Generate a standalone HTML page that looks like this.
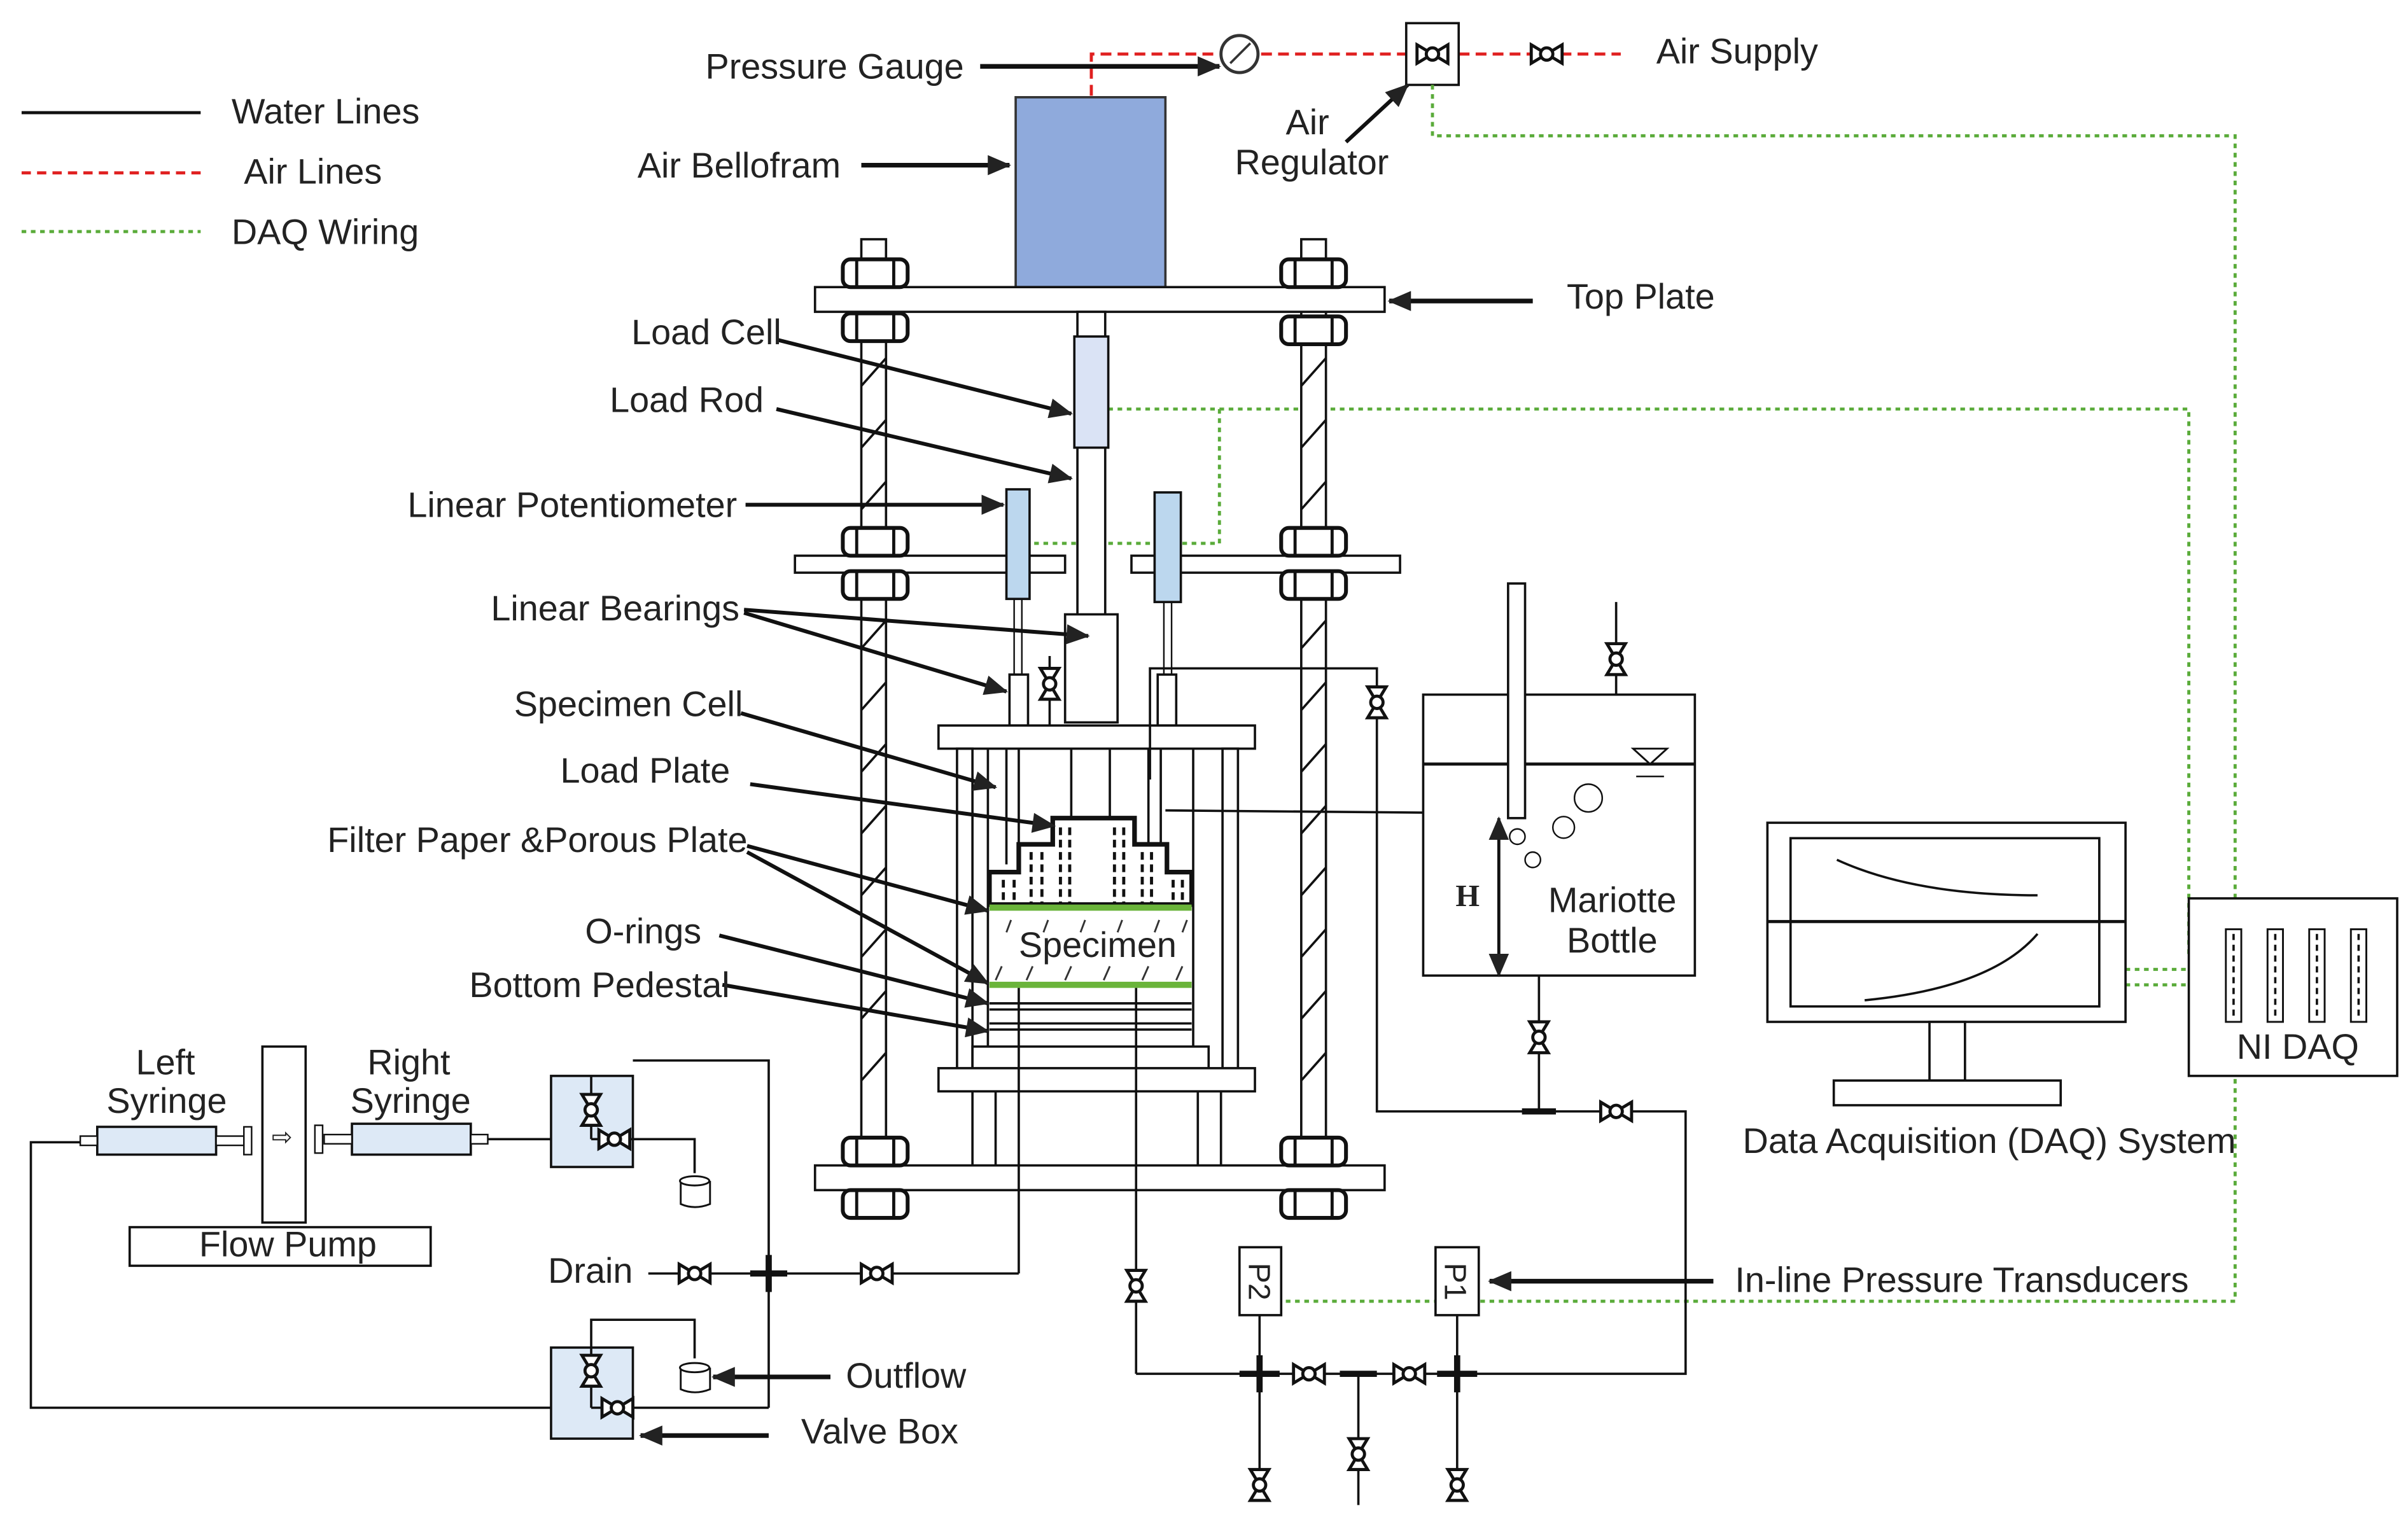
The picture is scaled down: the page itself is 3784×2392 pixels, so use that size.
<!DOCTYPE html>
<html><head><meta charset="utf-8"><style>
html,body{margin:0;padding:0;background:#fff;}
svg{display:block;}
text{font-family:"Liberation Sans",Arial,sans-serif;font-size:23px;fill:#222;}
</style></head><body>
<svg width="3784" height="2392" viewBox="0 0 1560 986" preserveAspectRatio="none" xmlns="http://www.w3.org/2000/svg">
<defs>
<marker id="a" viewBox="0 0 14 12" refX="13" refY="6" markerWidth="16" markerHeight="13" orient="auto-start-reverse" markerUnits="userSpaceOnUse"><path d="M0,0 L14,6 L0,12 Z" fill="#222"/></marker>
<g id="vh"><path d="M-10,-6 L10,6 L10,-6 L-10,6 Z" fill="#fff" stroke="#111" stroke-width="2"/><circle r="4" fill="#fff" stroke="#111" stroke-width="2"/></g>
<g id="vv"><path d="M-6,-10 L6,10 L-6,10 L6,-10 Z" fill="#fff" stroke="#111" stroke-width="2"/><circle r="4" fill="#fff" stroke="#111" stroke-width="2"/></g>
<g id="nut"><rect x="-21" y="-9" width="42" height="18" rx="5" fill="#fff" stroke="#111" stroke-width="2.5"/><line x1="-12" y1="-9" x2="-12" y2="9" stroke="#111" stroke-width="2"/><line x1="12" y1="-9" x2="12" y2="9" stroke="#111" stroke-width="2"/></g>
</defs>

<!-- legend -->
<line x1="14" y1="73" x2="130" y2="73" stroke="#111" stroke-width="2"/>
<line x1="14" y1="112" x2="130" y2="112" stroke="#e02020" stroke-width="2" stroke-dasharray="6,4"/>
<line x1="14" y1="150" x2="130" y2="150" stroke="#5aab3a" stroke-width="2" stroke-dasharray="3,3"/>
<text x="150" y="80">Water Lines</text>
<text x="158" y="119">Air Lines</text>
<text x="150" y="158">DAQ Wiring</text>

<!-- air lines -->
<g fill="none" stroke="#e02020" stroke-width="2" stroke-dasharray="7,4">
<polyline points="707,62 707,35 790,35"/>
<line x1="817" y1="35" x2="911" y2="35"/>
<line x1="945" y1="35" x2="1050" y2="35"/>
</g>
<circle cx="803" cy="35" r="12" fill="#fff" stroke="#333" stroke-width="2"/>
<line x1="797" y1="41" x2="810" y2="28" stroke="#333" stroke-width="1.5"/>
<rect x="911" y="15" width="34" height="40" fill="#fff" stroke="#111" stroke-width="1.5"/>
<use href="#vh" x="928" y="35"/>
<use href="#vh" x="1002" y="35"/>
<text x="457" y="51">Pressure Gauge</text>
<line x1="635" y1="43" x2="790" y2="43" stroke="#111" stroke-width="3" marker-end="url(#a)"/>
<text x="1073" y="41">Air Supply</text>
<text x="833" y="87">Air</text>
<text x="800" y="113">Regulator</text>
<line x1="872" y1="92" x2="912" y2="55" stroke="#111" stroke-width="2.5" marker-end="url(#a)"/>

<!-- DAQ wiring -->
<g fill="none" stroke="#5aab3a" stroke-width="2" stroke-dasharray="3,3">
<polyline points="928,55 928,88 1448,88 1448,843 830,843"/>
<polyline points="718,265 1418,265 1418,620"/>
<polyline points="790,265 790,352 668,352"/>
<line x1="1377" y1="628" x2="1418" y2="628"/>
<line x1="1377" y1="638" x2="1418" y2="638"/>
</g>

<!-- bellofram -->
<rect x="658" y="63" width="97" height="123" fill="#8faadc" stroke="#333" stroke-width="1.5"/>
<text x="413" y="115">Air Bellofram</text>
<line x1="558" y1="107" x2="654" y2="107" stroke="#111" stroke-width="3" marker-end="url(#a)"/>

<!-- rods -->
<g stroke="#111" stroke-width="1.5" fill="#fff">
<rect x="558" y="155" width="16" height="625"/>
<rect x="843" y="155" width="16" height="625"/>
</g>
<g stroke="#111" stroke-width="1.5">
<line x1="558" y1="250" x2="574" y2="232"/><line x1="558" y1="290" x2="574" y2="272"/><line x1="558" y1="330" x2="574" y2="312"/>
<line x1="558" y1="420" x2="574" y2="402"/><line x1="558" y1="460" x2="574" y2="442"/><line x1="558" y1="500" x2="574" y2="482"/><line x1="558" y1="540" x2="574" y2="522"/><line x1="558" y1="580" x2="574" y2="562"/><line x1="558" y1="620" x2="574" y2="602"/><line x1="558" y1="660" x2="574" y2="642"/><line x1="558" y1="700" x2="574" y2="682"/>
<line x1="843" y1="250" x2="859" y2="232"/><line x1="843" y1="290" x2="859" y2="272"/><line x1="843" y1="330" x2="859" y2="312"/>
<line x1="843" y1="420" x2="859" y2="402"/><line x1="843" y1="460" x2="859" y2="442"/><line x1="843" y1="500" x2="859" y2="482"/><line x1="843" y1="540" x2="859" y2="522"/><line x1="843" y1="580" x2="859" y2="562"/><line x1="843" y1="620" x2="859" y2="602"/><line x1="843" y1="660" x2="859" y2="642"/><line x1="843" y1="700" x2="859" y2="682"/>
</g>
<!-- top plate -->
<rect x="528" y="186" width="369" height="16" fill="#fff" stroke="#111" stroke-width="1.5"/>
<use href="#nut" x="567" y="177"/><use href="#nut" x="567" y="212"/>
<use href="#nut" x="851" y="177"/><use href="#nut" x="851" y="214"/>
<text x="1015" y="200">Top Plate</text>
<line x1="993" y1="195" x2="900" y2="195" stroke="#111" stroke-width="3" marker-end="url(#a)"/>
<!-- middle plates -->
<rect x="515" y="360" width="175" height="11" fill="#fff" stroke="#111" stroke-width="1.5"/>
<rect x="733" y="360" width="174" height="11" fill="#fff" stroke="#111" stroke-width="1.5"/>
<use href="#nut" x="567" y="351"/><use href="#nut" x="567" y="379"/>
<use href="#nut" x="851" y="351"/><use href="#nut" x="851" y="379"/>
<!-- bottom plate -->
<rect x="528" y="755" width="369" height="16" fill="#fff" stroke="#111" stroke-width="1.5"/>
<use href="#nut" x="567" y="746"/><use href="#nut" x="567" y="780"/>
<use href="#nut" x="851" y="746"/><use href="#nut" x="851" y="780"/>

<!-- load rod & cell -->
<rect x="698" y="202" width="18" height="200" fill="#fff" stroke="#111" stroke-width="1.5"/>
<rect x="696" y="218" width="22" height="72" fill="#dae3f5" stroke="#111" stroke-width="1.5"/>
<rect x="690" y="398" width="34" height="70" fill="#fff" stroke="#111" stroke-width="1.5"/>
<!-- potentiometers -->
<rect x="652" y="317" width="15" height="71" fill="#bcd7ee" stroke="#111" stroke-width="1.5"/>
<rect x="748" y="319" width="17" height="71" fill="#bcd7ee" stroke="#111" stroke-width="1.5"/>
<line x1="657" y1="388" x2="657" y2="437" stroke="#111"/><line x1="662" y1="388" x2="662" y2="437" stroke="#111"/>
<line x1="754" y1="390" x2="754" y2="437" stroke="#111"/><line x1="759" y1="390" x2="759" y2="437" stroke="#111"/>
<rect x="654" y="437" width="12" height="33" fill="#fff" stroke="#111" stroke-width="1.5"/>
<rect x="750" y="437" width="12" height="33" fill="#fff" stroke="#111" stroke-width="1.5"/>
<line x1="680" y1="425" x2="680" y2="470" stroke="#111" stroke-width="1.5"/>
<use href="#vv" x="680" y="443"/>

<!-- specimen cell -->
<rect x="608" y="470" width="205" height="15" fill="#fff" stroke="#111" stroke-width="1.5"/>
<g stroke="#111" stroke-width="1.5" fill="none">
<rect x="620" y="485" width="10" height="207"/>
<rect x="792" y="485" width="10" height="207"/>
<line x1="640" y1="485" x2="640" y2="690"/><line x1="773" y1="485" x2="773" y2="690"/>
<line x1="652" y1="485" x2="652" y2="560"/><line x1="660" y1="485" x2="660" y2="560"/>
<line x1="744" y1="485" x2="744" y2="560"/><line x1="752" y1="485" x2="752" y2="560"/>
<line x1="694" y1="485" x2="694" y2="530"/><line x1="719" y1="485" x2="719" y2="530"/>
</g>
<path d="M641,586 L641,565 L660,565 L660,547 L682,547 L682,530 L735,530 L735,547 L756,547 L756,565 L772,565 L772,586 Z" fill="#fff" stroke="#111" stroke-width="3"/>
<g stroke="#111" stroke-width="2" stroke-dasharray="5,3">
<line x1="650" y1="570" x2="650" y2="585"/><line x1="657" y1="570" x2="657" y2="585"/><line x1="668" y1="552" x2="668" y2="585"/><line x1="675" y1="552" x2="675" y2="585"/><line x1="687" y1="536" x2="687" y2="585"/><line x1="693" y1="536" x2="693" y2="585"/>
<line x1="722" y1="536" x2="722" y2="585"/><line x1="728" y1="536" x2="728" y2="585"/><line x1="740" y1="552" x2="740" y2="585"/><line x1="746" y1="552" x2="746" y2="585"/><line x1="760" y1="570" x2="760" y2="585"/><line x1="766" y1="570" x2="766" y2="585"/>
</g>
<rect x="641" y="586" width="131" height="4" fill="#6ab43a"/>
<g stroke="#333" stroke-width="1.2">
<line x1="652" y1="604" x2="655" y2="596"/><line x1="676" y1="604" x2="679" y2="596"/><line x1="700" y1="604" x2="703" y2="596"/><line x1="724" y1="604" x2="727" y2="596"/><line x1="748" y1="604" x2="751" y2="596"/><line x1="766" y1="604" x2="769" y2="596"/>
<line x1="645" y1="635" x2="649" y2="626"/><line x1="665" y1="635" x2="669" y2="626"/><line x1="690" y1="635" x2="694" y2="626"/><line x1="715" y1="635" x2="719" y2="626"/><line x1="740" y1="635" x2="744" y2="626"/><line x1="762" y1="635" x2="766" y2="626"/>
</g>
<text x="660" y="620">Specimen</text>
<rect x="641" y="636" width="131" height="4" fill="#6ab43a"/>
<g stroke="#111" stroke-width="1.5">
<line x1="641" y1="650" x2="772" y2="650"/><line x1="641" y1="654" x2="772" y2="654"/>
<line x1="641" y1="663" x2="772" y2="663"/><line x1="641" y1="667" x2="772" y2="667"/>
</g>
<rect x="630" y="678" width="153" height="14" fill="#fff" stroke="#111" stroke-width="1.5"/>
<rect x="608" y="692" width="205" height="15" fill="#fff" stroke="#111" stroke-width="1.5"/>
<g stroke="#111" stroke-width="1.5"><line x1="630" y1="707" x2="630" y2="755"/><line x1="645" y1="707" x2="645" y2="755"/><line x1="776" y1="707" x2="776" y2="755"/><line x1="791" y1="707" x2="791" y2="755"/></g>

<!-- water line top right -->
<g fill="none" stroke="#111" stroke-width="1.5">
<polyline points="745,505 745,433 892,433 892,720 1092,720 1092,890 736,890"/>
<line x1="755" y1="525" x2="985" y2="527"/>
<line x1="660" y1="640" x2="660" y2="825"/>
<line x1="736" y1="640" x2="736" y2="890"/>
</g>
<use href="#vv" x="892" y="455"/>

<!-- mariotte -->
<rect x="922" y="450" width="176" height="182" fill="#fff" stroke="#111" stroke-width="1.5"/>
<line x1="922" y1="495" x2="1098" y2="495" stroke="#111" stroke-width="2"/>
<path d="M1058,485 L1080,485 L1069,495 Z" fill="#fff" stroke="#111" stroke-width="1.2"/>
<line x1="1060" y1="503" x2="1078" y2="503" stroke="#111"/>
<rect x="977" y="378" width="11" height="152" fill="#fff" stroke="#111" stroke-width="1.5"/>
<line x1="1047" y1="390" x2="1047" y2="450" stroke="#111" stroke-width="1.5"/>
<use href="#vv" x="1047" y="427"/>
<circle cx="1029" cy="517" r="9" fill="none" stroke="#111"/>
<circle cx="1013" cy="536" r="7" fill="none" stroke="#111"/>
<circle cx="983" cy="542" r="5" fill="none" stroke="#111"/>
<circle cx="993" cy="557" r="5" fill="none" stroke="#111"/>
<line x1="971" y1="530" x2="971" y2="632" stroke="#111" stroke-width="2" marker-end="url(#a)" marker-start="url(#a)"/>
<text x="943" y="587" style="font-family:'Liberation Serif',serif;font-weight:bold;font-size:20px">H</text>
<text x="1003" y="591">Mariotte</text>
<text x="1015" y="617">Bottle</text>
<line x1="997" y1="632" x2="997" y2="720" stroke="#111" stroke-width="1.5"/>
<use href="#vv" x="997" y="672"/>
<rect x="986" y="718" width="22" height="4" fill="#111"/>
<use href="#vh" x="1047" y="720"/>

<!-- monitor -->
<rect x="1145" y="533" width="232" height="129" fill="#fff" stroke="#111" stroke-width="1.5"/>
<rect x="1160" y="543" width="200" height="109" fill="#fff" stroke="#111" stroke-width="1.5"/>
<line x1="1145" y1="597" x2="1377" y2="597" stroke="#111" stroke-width="2"/>
<path d="M1190,557 Q1240,580 1320,580" fill="none" stroke="#111" stroke-width="1.5"/>
<path d="M1208,648 Q1290,640 1320,605" fill="none" stroke="#111" stroke-width="1.5"/>
<rect x="1250" y="662" width="23" height="38" fill="#fff" stroke="#111" stroke-width="1.5"/>
<rect x="1188" y="700" width="147" height="16" fill="#fff" stroke="#111" stroke-width="1.5"/>
<text x="1129" y="747">Data Acquisition (DAQ) System</text>
<!-- NI DAQ -->
<rect x="1418" y="582" width="135" height="115" fill="#fff" stroke="#111" stroke-width="1.5"/>
<g fill="#fff" stroke="#111" stroke-width="1.2">
<rect x="1442" y="602" width="10" height="60"/><rect x="1469" y="602" width="10" height="60"/><rect x="1496" y="602" width="10" height="60"/><rect x="1523" y="602" width="10" height="60"/>
</g>
<g stroke="#111" stroke-width="1.5" stroke-dasharray="4,3">
<line x1="1447" y1="605" x2="1447" y2="660"/><line x1="1474" y1="605" x2="1474" y2="660"/><line x1="1501" y1="605" x2="1501" y2="660"/><line x1="1528" y1="605" x2="1528" y2="660"/>
</g>
<text x="1449" y="686">NI DAQ</text>

<!-- lower piping -->
<g fill="none" stroke="#111" stroke-width="1.5">
<line x1="816" y1="852" x2="816" y2="970"/>
<line x1="944" y1="852" x2="944" y2="970"/>
<line x1="880" y1="890" x2="880" y2="975"/>
</g>
<rect x="803" y="888" width="26" height="4" fill="#111"/><rect x="814" y="878" width="4" height="24" fill="#111"/>
<rect x="931" y="888" width="26" height="4" fill="#111"/><rect x="942" y="878" width="4" height="24" fill="#111"/>
<rect x="868" y="888" width="24" height="4" fill="#111"/>
<use href="#vv" x="736" y="833"/>
<use href="#vh" x="848" y="890"/><use href="#vh" x="913" y="890"/>
<use href="#vv" x="880" y="942"/>
<use href="#vv" x="816" y="962"/><use href="#vv" x="944" y="962"/>
<rect x="803" y="808" width="27" height="44" fill="#fff" stroke="#111" stroke-width="1.5"/>
<rect x="930" y="808" width="28" height="44" fill="#fff" stroke="#111" stroke-width="1.5"/>
<text transform="translate(809,818) rotate(90)" style="font-size:20px">P2</text>
<text transform="translate(936,818) rotate(90)" style="font-size:20px">P1</text>
<text x="1124" y="837">In-line Pressure Transducers</text>
<line x1="1110" y1="830" x2="965" y2="830" stroke="#111" stroke-width="3" marker-end="url(#a)"/>

<!-- left piping -->
<g fill="none" stroke="#111" stroke-width="1.5">
<line x1="420" y1="825" x2="660" y2="825"/>
<polyline points="498,912 498,687 410,687"/>
<line x1="410" y1="912" x2="498" y2="912"/>
<polyline points="60,740 20,740 20,912 357,912"/>
<line x1="305" y1="738" x2="398" y2="738"/>
<polyline points="398,738 450,738 450,760"/>
<polyline points="383,873 383,855 450,855 450,880"/>
</g>
<rect x="486" y="823" width="24" height="4" fill="#111"/><rect x="496" y="813" width="4" height="24" fill="#111"/>
<use href="#vh" x="450" y="825"/><use href="#vh" x="568" y="825"/>
<text x="355" y="831">Drain</text>
<rect x="357" y="697" width="53" height="59" fill="#dde9f6" stroke="#111" stroke-width="1.5"/>
<rect x="357" y="873" width="53" height="59" fill="#dde9f6" stroke="#111" stroke-width="1.5"/>
<line x1="383" y1="697" x2="383" y2="738" stroke="#111" stroke-width="1.5"/><line x1="383" y1="738" x2="410" y2="738" stroke="#111" stroke-width="1.5"/>
<line x1="383" y1="873" x2="383" y2="912" stroke="#111" stroke-width="1.5"/><line x1="383" y1="912" x2="410" y2="912" stroke="#111" stroke-width="1.5"/>
<use href="#vv" x="383" y="719"/><use href="#vh" x="398" y="738"/>
<use href="#vv" x="383" y="888"/><use href="#vh" x="400" y="912"/>
<path d="M441,765 L441,780 Q450,784 460,780 L460,765" fill="#fff" stroke="#111" stroke-width="1.2"/><ellipse cx="450" cy="765" rx="9.5" ry="3" fill="#fff" stroke="#111" stroke-width="1.2"/>
<path d="M441,886 L441,900 Q450,904 460,900 L460,886" fill="#fff" stroke="#111" stroke-width="1.2"/><ellipse cx="450" cy="886" rx="9.5" ry="3" fill="#fff" stroke="#111" stroke-width="1.2"/>
<text x="548" y="899">Outflow</text>
<line x1="538" y1="892" x2="462" y2="892" stroke="#111" stroke-width="3" marker-end="url(#a)"/>
<text x="519" y="935">Valve Box</text>
<line x1="498" y1="930" x2="415" y2="930" stroke="#111" stroke-width="3" marker-end="url(#a)"/>

<!-- flow pump -->
<rect x="170" y="678" width="28" height="114" fill="#fff" stroke="#111" stroke-width="1.5"/>
<text x="176" y="742" style="font-size:16px">⇨</text>
<rect x="84" y="795" width="195" height="25" fill="#fff" stroke="#111" stroke-width="1.5"/>
<text x="129" y="814">Flow Pump</text>
<rect x="63" y="730" width="77" height="18" fill="#dde9f6" stroke="#111" stroke-width="1.5"/>
<rect x="140" y="736" width="18" height="6" fill="#fff" stroke="#111"/>
<rect x="158" y="730" width="5" height="18" fill="#fff" stroke="#111"/>
<rect x="228" y="728" width="77" height="20" fill="#dde9f6" stroke="#111" stroke-width="1.5"/>
<rect x="210" y="735" width="18" height="6" fill="#fff" stroke="#111"/>
<rect x="204" y="729" width="5" height="18" fill="#fff" stroke="#111"/>
<rect x="52" y="736" width="11" height="6" fill="#fff" stroke="#111"/>
<rect x="305" y="735" width="11" height="6" fill="#fff" stroke="#111"/>
<text x="88" y="696">Left</text><text x="69" y="721">Syringe</text>
<text x="238" y="696">Right</text><text x="227" y="721">Syringe</text>

<!-- labels with arrows -->
<g stroke="#111" stroke-width="2.5" marker-end="url(#a)">
<line x1="503" y1="220" x2="694" y2="268"/>
<line x1="503" y1="265" x2="694" y2="310"/>
<line x1="483" y1="327" x2="650" y2="327"/>
<line x1="482" y1="395" x2="705" y2="412"/>
<line x1="482" y1="397" x2="652" y2="448"/>
<line x1="480" y1="462" x2="645" y2="510"/>
<line x1="486" y1="508" x2="683" y2="535"/>
<line x1="484" y1="548" x2="640" y2="590"/>
<line x1="484" y1="552" x2="640" y2="637"/>
<line x1="466" y1="606" x2="640" y2="650"/>
<line x1="468" y1="638" x2="640" y2="668"/>
</g>
<text x="409" y="223">Load Cell</text>
<text x="395" y="267">Load Rod</text>
<text x="264" y="335">Linear Potentiometer</text>
<text x="318" y="402">Linear Bearings</text>
<text x="333" y="464">Specimen Cell</text>
<text x="363" y="507">Load Plate</text>
<text x="212" y="552">Filter Paper &amp;Porous Plate</text>
<text x="379" y="611">O-rings</text>
<text x="304" y="646">Bottom Pedestal</text>
</svg>
</body></html>
